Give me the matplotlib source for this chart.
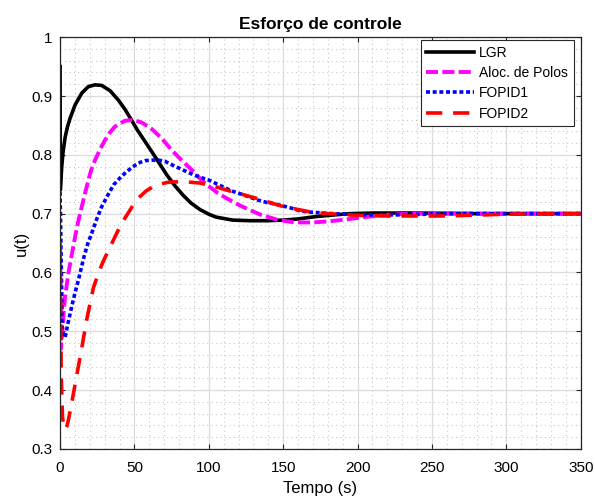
import numpy as np
import matplotlib.pyplot as plt
from matplotlib.ticker import MultipleLocator

plt.rcParams['font.family'] = ['Liberation Sans', 'DejaVu Sans']

# values
t_lgr = [0, 0.15, 0.5, 1.1, 2, 3.4, 5, 6.7, 10.1, 14.6, 19, 23.5, 28, 33.6,
         39.2, 43.7, 48, 52, 57, 63.8, 71.7, 77, 82.8, 88, 94, 100, 105, 116,
         127.6, 139, 150, 160, 172, 185, 195, 210, 240, 280, 350]
u_lgr = [0.95, 0.74, 0.755, 0.78, 0.805, 0.83, 0.848, 0.862, 0.885, 0.905,
         0.916, 0.919, 0.918, 0.909, 0.893, 0.877, 0.859, 0.842, 0.823, 0.797,
         0.766, 0.748, 0.731, 0.718, 0.707, 0.699, 0.694, 0.689, 0.688, 0.688,
         0.689, 0.691, 0.695, 0.698, 0.700, 0.701, 0.701, 0.700, 0.700]

t_aloc = [0, 0.6, 1.5, 2.5, 3.4, 5.6, 8, 10.1, 12.3, 14.6, 17, 19, 21, 23.5,
          27, 30.2, 33.5, 36.9, 40, 43.7, 48.1, 51, 54.8, 58, 61.6, 65, 68.3,
          71.7, 75, 82, 89.5, 95, 100.8, 106, 112, 120, 127.6, 135, 145.6,
          155, 161, 170, 181, 192, 204, 220, 237, 280, 350]
u_aloc = [0.62, 0.47, 0.50, 0.535, 0.56, 0.599, 0.632, 0.661, 0.688, 0.712,
          0.737, 0.757, 0.775, 0.791, 0.810, 0.825, 0.838, 0.848, 0.853,
          0.858, 0.859, 0.858, 0.855, 0.850, 0.844, 0.836, 0.828, 0.818,
          0.808, 0.790, 0.772, 0.757, 0.745, 0.735, 0.726, 0.715, 0.706,
          0.698, 0.690, 0.686, 0.685, 0.685, 0.687, 0.690, 0.694, 0.698,
          0.700, 0.700, 0.700]

t_f1 = [0, 1.5, 2.5, 3.4, 5, 7.8, 10, 12.3, 16.1, 18.5, 21.3, 24.5, 28, 32,
        36, 40, 43.7, 48, 52.6, 57, 61.6, 66, 70.5, 76, 82.8, 88, 94, 100,
        105, 110, 116, 122, 127.6, 133, 139, 145, 150, 156, 161, 166, 172,
        183, 200, 230, 260, 350]
u_f1 = [0.737, 0.50, 0.49, 0.49, 0.51, 0.542, 0.565, 0.587, 0.627, 0.648,
        0.667, 0.690, 0.712, 0.731, 0.749, 0.760, 0.769, 0.778, 0.786,
        0.790, 0.791, 0.791, 0.789, 0.782, 0.774, 0.768, 0.762, 0.757,
        0.751, 0.745, 0.738, 0.733, 0.728, 0.723, 0.719, 0.716, 0.713,
        0.709, 0.705, 0.703, 0.702, 0.700, 0.698, 0.698, 0.700, 0.700]

t_f2 = [0, 0.8, 1.6, 2.5, 3.5, 4.5, 5.5, 7.8, 11.2, 14.6, 17.9, 22.4, 26, 29,
        33, 37, 41, 45.5, 49.5, 53.7, 58, 62, 67, 72, 76, 85, 94, 103, 112,
        122, 132, 141, 150, 160, 170, 180, 188, 200, 220, 260, 300, 350]
u_f2 = [0.65, 0.42, 0.355, 0.337, 0.333, 0.338, 0.348, 0.378, 0.425, 0.472,
        0.520, 0.574, 0.600, 0.619, 0.640, 0.661, 0.682, 0.700, 0.716,
        0.729, 0.739, 0.745, 0.750, 0.753, 0.754, 0.754, 0.752, 0.747,
        0.740, 0.733, 0.726, 0.719, 0.712, 0.707, 0.702, 0.700, 0.699,
        0.697, 0.696, 0.696, 0.699, 0.700]

fig, ax = plt.subplots(figsize=(5.95, 4.96), dpi=100)
fig.subplots_adjust(left=0.101, right=0.976, bottom=0.095, top=0.925)

ax.plot(t_lgr, u_lgr, color='k', lw=2.6, label='LGR')
ax.plot(t_aloc, u_aloc, color='magenta', lw=2.8, dashes=(3.1, 1.1),
        label='Aloc. de Polos')
ax.plot(t_f1, u_f1, color='blue', lw=2.6, dashes=(1.1, 0.75),
        label='FOPID1')
ax.plot(t_f2, u_f2, color='red', lw=2.6, dashes=(4.5, 3.0), label='FOPID2')

ax.set_xlim(0, 350)
ax.set_ylim(0.3, 1)
ax.xaxis.set_major_locator(MultipleLocator(50))
ax.xaxis.set_minor_locator(MultipleLocator(10))
ax.yaxis.set_minor_locator(MultipleLocator(0.02))
ax.set_yticks(np.arange(0.3, 1.01, 0.1))
ax.set_yticklabels(['0.3', '0.4', '0.5', '0.6', '0.7', '0.8', '0.9', '1'])

ax.grid(which='major', color='#dcdcdc', lw=0.9, ls='-')
ax.grid(which='minor', color='#c8c8c8', lw=0.8, ls=(0, (1, 3)))
ax.set_axisbelow(True)
ax.tick_params(which='both', direction='in', top=True, right=True,
               labelsize=11, color='#262626')
ax.tick_params(axis='x', pad=8.5)
ax.tick_params(axis='y', pad=5.2)
ax.tick_params(which='minor', length=0)
for s in ax.spines.values():
    s.set_color('#262626')
    s.set_linewidth(0.9)

ax.set_title('Esforço de controle', fontsize=12.5, fontweight='bold', pad=6)
ax.set_xlabel('Tempo (s)', fontsize=12, labelpad=4.6)
ax.set_ylabel('u(t)', fontsize=12, labelpad=2.3)

leg = ax.legend(loc='upper right', bbox_to_anchor=(1 - 7 / 521, 1 - 3 / 412),
                borderaxespad=0, fontsize=10, handlelength=3.45,
                fancybox=False, framealpha=1, edgecolor='#262626',
                borderpad=0.4, labelspacing=0.45, handletextpad=0.36)
leg.get_frame().set_linewidth(0.8)

fig.savefig('out.png', dpi=100)
